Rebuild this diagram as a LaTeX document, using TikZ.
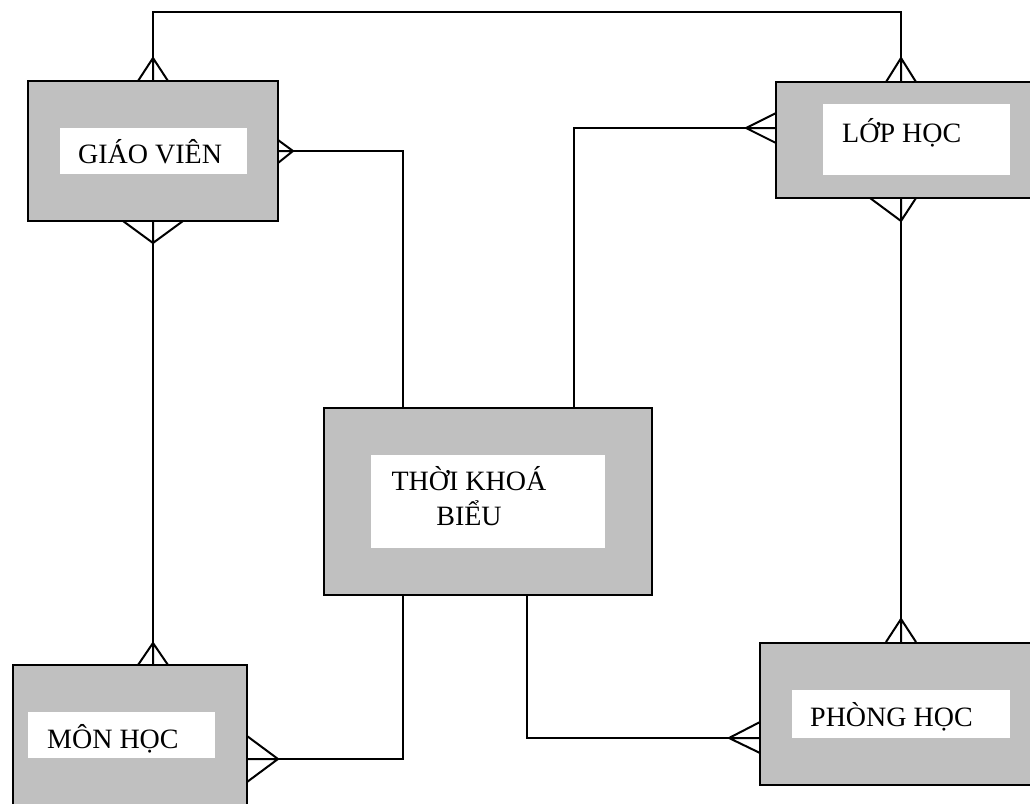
\documentclass[tikz,border=0pt]{standalone}
\usepackage{fontspec}
\setmainfont{Liberation Serif}
\usetikzlibrary{calc}
\definecolor{boxgray}{RGB}{192,192,192}
\begin{document}
\begin{tikzpicture}[x=1pt,y=-1pt]
		\tikzstyle{Entity} = [rectangle, draw=black, fill=boxgray, line width=2pt, inner sep=0pt]
		\tikzstyle{Inner} = [rectangle, fill=white, inner sep=0pt, outer sep=0pt]
		\tikzstyle{Label} = [inner sep=0pt, anchor=base west, font=\fontsize{28}{35}\selectfont]
		\tikzstyle{link} = [line width=2pt]
		\useasboundingbox (0,0) rectangle (1030,803);

		\node (gv) [Entity, minimum width=250pt, minimum height=140pt] at (153,151) {};
		\node (lop) [Entity, minimum width=264pt, minimum height=116pt] at (908,140) {};
		\node (tkb) [Entity, minimum width=328pt, minimum height=187pt] at (488,501.5) {};
		\node (mon) [Entity, minimum width=234pt, minimum height=150pt] at (130,740) {};
		\node (phong) [Entity, minimum width=280pt, minimum height=142pt] at (900,714) {};

		\node (gvIn) [Inner, minimum width=187pt, minimum height=46pt] at (153.5,151) {};
		\node (lopIn) [Inner, minimum width=187pt, minimum height=71pt] at (916.5,139.5) {};
		\node (tkbIn) [Inner, minimum width=234pt, minimum height=93pt] at (488,501.5) {};
		\node (monIn) [Inner, minimum width=187pt, minimum height=46pt] at (121.5,735) {};
		\node (phongIn) [Inner, minimum width=218pt, minimum height=48pt] at (901,714) {};

		\node (gvText) [Label] at (78,163) {GIÁO VIÊN};
		\node (lopText) [Label] at (842,142) {LỚP HỌC};
		\node (tkbText) [Label, anchor=base, align=center] at (469,525) {THỜI KHOÁ\\BIỂU};
		\node (monText) [Label] at (47,748) {MÔN HỌC};
		\node (phongText) [Label] at (810,726) {PHÒNG HỌC};

		% crow's feet tips
		\coordinate (gvT) at (153,58);
		\coordinate (gvR) at (293,151);
		\coordinate (gvB) at (153,243);
		\coordinate (lopT) at (901,58);
		\coordinate (lopL) at (746,128);
		\coordinate (lopB) at (901,221);
		\coordinate (monT) at (153,643);
		\coordinate (monR) at (278,759);
		\coordinate (phongT) at (901,619);
		\coordinate (phongL) at (729,738);
		\coordinate (topR) at (901,12);

		\draw [link] (gvT) -- (gvT |- gv.north) (gvT) -- ++(-15,23) (gvT) -- ++(15,23);
		\draw [link] (gvR) -- (gvR -| gv.east) (gvR) -- ++(-15,-11) (gvR) -- ++(-15,12);
		\draw [link] (gvB) -- (gvB |- gv.south) (gvB) -- ++(-30,-22) (gvB) -- ++(30,-22);
		\draw [link] (lopT) -- (lopT |- lop.north) (lopT) -- ++(-15,24) (lopT) -- ++(15,24);
		\draw [link] (lopL) -- (lopL -| lop.west) (lopL) -- ++(30,-15) (lopL) -- ++(30,15);
		\draw [link] (lopB) -- (lopB |- lop.south) (lopB) -- ++(-31,-23) (lopB) -- ++(15,-23);
		\draw [link] (monT) -- (monT |- mon.north) (monT) -- ++(-15,22) (monT) -- ++(15,22);
		\draw [link] (monR) -- (monR -| mon.east) (monR) -- ++(-31,-23) (monR) -- ++(-31,23);
		\draw [link] (phongT) -- (phongT |- phong.north) (phongT) -- ++(-15,23) (phongT) -- ++(15,23);
		\draw [link] (phongL) -- (phongL -| phong.west) (phongL) -- ++(31,-16) (phongL) -- ++(31,15);

		% relationships
		\draw [link] (gvT) |- (topR) -- (lopT);
		\draw [link] (gvR) -| ($(tkb.north west)!0.241!(tkb.north east)$);
		\draw [link] (lopL) -| ($(tkb.north west)!0.762!(tkb.north east)$);
		\draw [link] (gvB) -- (monT);
		\draw [link] (lopB) -- (phongT);
		\draw [link] (monR) -| ($(tkb.south west)!0.241!(tkb.south east)$);
		\draw [link] (phongL) -| ($(tkb.south west)!0.619!(tkb.south east)$);
\end{tikzpicture}
\end{document}
